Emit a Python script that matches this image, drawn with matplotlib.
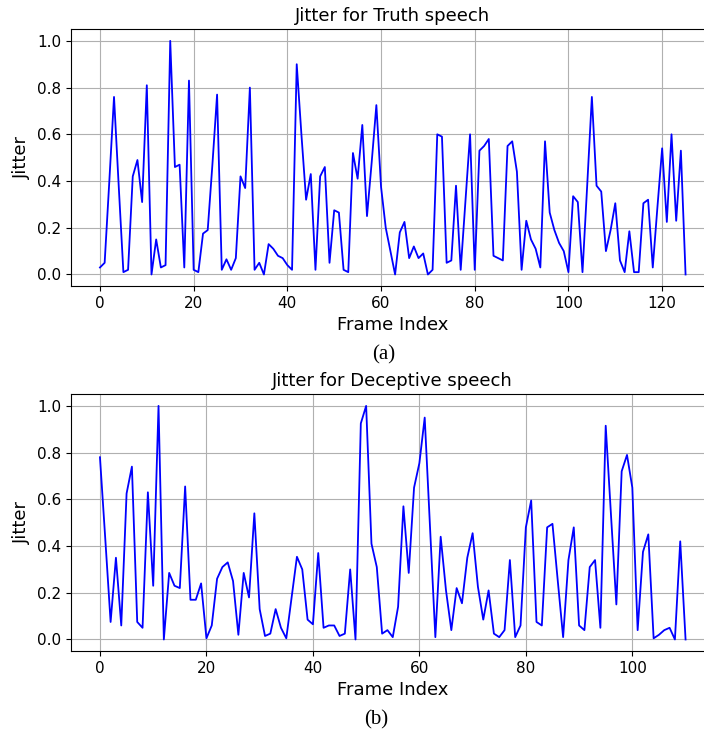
import numpy as np
import matplotlib
matplotlib.use("Agg")
import matplotlib.pyplot as plt

# jitter per frame
truth_jitter = [
    0.03, 0.05, 0.40, 0.76, 0.38, 0.01, 0.02, 0.42, 0.49, 0.31,
    0.81, 0.00, 0.15, 0.03, 0.04, 1.00, 0.46, 0.47, 0.03, 0.83,
    0.02, 0.01, 0.175, 0.19, 0.47, 0.77, 0.02, 0.065, 0.02, 0.07,
    0.42, 0.37, 0.80, 0.02, 0.05, 0.00, 0.13, 0.11, 0.08, 0.07,
    0.04, 0.02, 0.90, 0.60, 0.32, 0.43, 0.02, 0.42, 0.46, 0.05,
    0.275, 0.265, 0.02, 0.01, 0.52, 0.41, 0.64, 0.25, 0.48, 0.725,
    0.375, 0.20, 0.10, 0.00, 0.18, 0.225, 0.07, 0.12, 0.07, 0.09,
    0.00, 0.02, 0.60, 0.59, 0.05, 0.06, 0.38, 0.02, 0.31, 0.60,
    0.02, 0.53, 0.55, 0.58, 0.08, 0.07, 0.06, 0.55, 0.57, 0.44,
    0.02, 0.23, 0.15, 0.11, 0.03, 0.57, 0.265, 0.19, 0.135, 0.10,
    0.01, 0.335, 0.31, 0.01, 0.38, 0.76, 0.38, 0.355, 0.10, 0.19,
    0.305, 0.06, 0.01, 0.185, 0.01, 0.01, 0.305, 0.32, 0.03, 0.29,
    0.54, 0.225, 0.60, 0.23, 0.53, 0.00,
]

deceptive_jitter = [
    0.78, 0.43, 0.075, 0.35, 0.06, 0.625, 0.74, 0.075, 0.05, 0.63,
    0.23, 1.00, 0.00, 0.285, 0.23, 0.22, 0.655, 0.17, 0.17, 0.24,
    0.005, 0.06, 0.26, 0.31, 0.33, 0.25, 0.02, 0.285, 0.18, 0.54,
    0.13, 0.015, 0.025, 0.13, 0.05, 0.005, 0.18, 0.354, 0.30, 0.085,
    0.065, 0.37, 0.05, 0.06, 0.06, 0.015, 0.025, 0.30, 0.00, 0.925,
    1.00, 0.41, 0.31, 0.025, 0.04, 0.01, 0.14, 0.57, 0.285, 0.65,
    0.755, 0.95, 0.48, 0.01, 0.44, 0.21, 0.04, 0.22, 0.155, 0.35,
    0.455, 0.225, 0.085, 0.21, 0.025, 0.01, 0.04, 0.34, 0.01, 0.06,
    0.48, 0.595, 0.075, 0.06, 0.48, 0.495, 0.25, 0.01, 0.34, 0.48,
    0.06, 0.04, 0.31, 0.34, 0.05, 0.915, 0.53, 0.15, 0.72, 0.79,
    0.65, 0.04, 0.375, 0.45, 0.005, 0.02, 0.04, 0.05, 0.00, 0.42,
    0.00,
]

titles = ["Jitter for Truth speech", "Jitter for Deceptive speech"]
captions = ["(a)", "(b)"]

fig = plt.figure(figsize=(7.04, 7.30), dpi=100)

ax1 = fig.add_axes([0.1004, 0.608, 0.915, 0.352])
ax2 = fig.add_axes([0.1004, 0.108, 0.915, 0.352])

for ax, data, title in zip([ax1, ax2], [truth_jitter, deceptive_jitter], titles):
    ax.plot(np.arange(len(data)), data, color="blue", linewidth=1.3)
    ax.set_title(title, fontsize=13)
    ax.set_xlabel("Frame Index", fontsize=13)
    ax.set_ylabel("Jitter", fontsize=13)
    ax.tick_params(labelsize=11)
    ax.grid(True)

fig.text(384 / 704, 1 - 355 / 730, captions[0], ha="center", va="center",
         family="Liberation Serif", fontsize=15)
fig.text(376 / 704, 1 - 720 / 730, captions[1], ha="center", va="center",
         family="Liberation Serif", fontsize=15)

fig.savefig("out.png", dpi=100)
